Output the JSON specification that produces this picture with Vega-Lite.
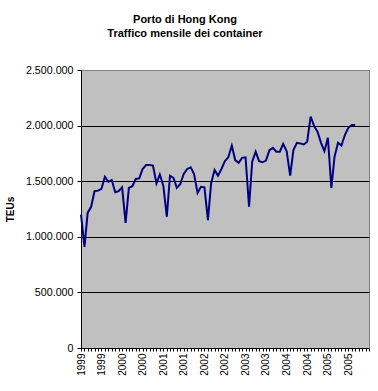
{
  "$schema": "https://vega.github.io/schema/vega-lite/v6.json",
  "width": 288,
  "height": 278,
  "autosize": {"type": "none"},
  "padding": {"left": 81, "top": 70, "right": 9, "bottom": 43},
  "background": "white",
  "title": {
    "text": ["Porto di Hong Kong", "Traffico mensile dei container"],
    "font": "Liberation Sans",
    "fontSize": 11,
    "fontWeight": "bold",
    "lineHeight": 14,
    "anchor": "middle",
    "frame": "group",
    "dx": -40,
    "offset": 25,
    "color": "black"
  },
  "config": {
    "locale": {"number": {"decimal": ",", "thousands": ".", "grouping": [3], "currency": ["€", ""]}},
    "view": {"fill": "#C0C0C0", "stroke": "#808080"},
    "font": "Liberation Sans"
  },
  "data": {
    "values": [
      {"month": "1999-01-01", "teu": 1200000},
      {"month": "1999-02-01", "teu": 910000},
      {"month": "1999-03-01", "teu": 1215000},
      {"month": "1999-04-01", "teu": 1270000},
      {"month": "1999-05-01", "teu": 1410000},
      {"month": "1999-06-01", "teu": 1415000},
      {"month": "1999-07-01", "teu": 1430000},
      {"month": "1999-08-01", "teu": 1540000},
      {"month": "1999-09-01", "teu": 1495000},
      {"month": "1999-10-01", "teu": 1510000},
      {"month": "1999-11-01", "teu": 1400000},
      {"month": "1999-12-01", "teu": 1410000},
      {"month": "2000-01-01", "teu": 1445000},
      {"month": "2000-02-01", "teu": 1125000},
      {"month": "2000-03-01", "teu": 1440000},
      {"month": "2000-04-01", "teu": 1455000},
      {"month": "2000-05-01", "teu": 1520000},
      {"month": "2000-06-01", "teu": 1525000},
      {"month": "2000-07-01", "teu": 1610000},
      {"month": "2000-08-01", "teu": 1645000},
      {"month": "2000-09-01", "teu": 1645000},
      {"month": "2000-10-01", "teu": 1640000},
      {"month": "2000-11-01", "teu": 1480000},
      {"month": "2000-12-01", "teu": 1560000},
      {"month": "2001-01-01", "teu": 1460000},
      {"month": "2001-02-01", "teu": 1180000},
      {"month": "2001-03-01", "teu": 1550000},
      {"month": "2001-04-01", "teu": 1530000},
      {"month": "2001-05-01", "teu": 1440000},
      {"month": "2001-06-01", "teu": 1475000},
      {"month": "2001-07-01", "teu": 1565000},
      {"month": "2001-08-01", "teu": 1610000},
      {"month": "2001-09-01", "teu": 1625000},
      {"month": "2001-10-01", "teu": 1565000},
      {"month": "2001-11-01", "teu": 1395000},
      {"month": "2001-12-01", "teu": 1450000},
      {"month": "2002-01-01", "teu": 1445000},
      {"month": "2002-02-01", "teu": 1150000},
      {"month": "2002-03-01", "teu": 1480000},
      {"month": "2002-04-01", "teu": 1600000},
      {"month": "2002-05-01", "teu": 1550000},
      {"month": "2002-06-01", "teu": 1610000},
      {"month": "2002-07-01", "teu": 1680000},
      {"month": "2002-08-01", "teu": 1715000},
      {"month": "2002-09-01", "teu": 1820000},
      {"month": "2002-10-01", "teu": 1690000},
      {"month": "2002-11-01", "teu": 1665000},
      {"month": "2002-12-01", "teu": 1710000},
      {"month": "2003-01-01", "teu": 1715000},
      {"month": "2003-02-01", "teu": 1270000},
      {"month": "2003-03-01", "teu": 1675000},
      {"month": "2003-04-01", "teu": 1765000},
      {"month": "2003-05-01", "teu": 1680000},
      {"month": "2003-06-01", "teu": 1670000},
      {"month": "2003-07-01", "teu": 1685000},
      {"month": "2003-08-01", "teu": 1780000},
      {"month": "2003-09-01", "teu": 1800000},
      {"month": "2003-10-01", "teu": 1765000},
      {"month": "2003-11-01", "teu": 1765000},
      {"month": "2003-12-01", "teu": 1835000},
      {"month": "2004-01-01", "teu": 1770000},
      {"month": "2004-02-01", "teu": 1550000},
      {"month": "2004-03-01", "teu": 1780000},
      {"month": "2004-04-01", "teu": 1845000},
      {"month": "2004-05-01", "teu": 1840000},
      {"month": "2004-06-01", "teu": 1830000},
      {"month": "2004-07-01", "teu": 1855000},
      {"month": "2004-08-01", "teu": 2080000},
      {"month": "2004-09-01", "teu": 1995000},
      {"month": "2004-10-01", "teu": 1945000},
      {"month": "2004-11-01", "teu": 1845000},
      {"month": "2004-12-01", "teu": 1770000},
      {"month": "2005-01-01", "teu": 1890000},
      {"month": "2005-02-01", "teu": 1440000},
      {"month": "2005-03-01", "teu": 1720000},
      {"month": "2005-04-01", "teu": 1845000},
      {"month": "2005-05-01", "teu": 1820000},
      {"month": "2005-06-01", "teu": 1915000},
      {"month": "2005-07-01", "teu": 1980000},
      {"month": "2005-08-01", "teu": 2005000},
      {"month": "2005-09-01", "teu": 2005000}
    ]
  },
  "mark": {"type": "line", "color": "#000080", "strokeWidth": 2},
  "encoding": {
    "x": {
      "field": "month",
      "type": "temporal",
      "scale": {
        "type": "utc",
        "domain": [{"year": 1999, "month": 1, "date": 1, "utc": true}, {"year": 2006, "month": 1, "date": 1, "utc": true}]
      },
      "axis": {
        "title": null,
        "tickCount": {"interval": "month", "step": 1},
        "labelExpr": "(utcmonth(datum.value) % 6 == 0 && utcyear(datum.value) < 2006) ? utcFormat(datum.value, '%Y') : ''",
        "labelAngle": -90,
        "labelOverlap": false,
        "labelFlush": false,
        "labelBound": false,
        "labelFont": "Liberation Sans",
        "labelFontSize": 10,
        "labelColor": "black",
        "labelPadding": 2,
        "tickSize": 3,
        "tickColor": "black",
        "domainColor": "black",
        "grid": false
      }
    },
    "y": {
      "field": "teu",
      "type": "quantitative",
      "scale": {"domain": [0, 2500000], "nice": false},
      "axis": {
        "title": "TEUs",
        "values": [0, 500000, 1000000, 1500000, 2000000, 2500000],
        "format": ",d",
        "labelFont": "Liberation Sans",
        "labelFontSize": 10.7,
        "labelColor": "black",
        "labelPadding": 4,
        "tickSize": 4,
        "tickColor": "black",
        "domainColor": "black",
        "grid": true,
        "gridColor": "black",
        "gridOpacity": {"condition": {"test": "datum.value == 0 || datum.value == 2500000", "value": 0}, "value": 1},
        "titleFont": "Liberation Sans",
        "titleFontSize": 10,
        "titleFontWeight": "bold",
        "titleColor": "black",
        "titlePadding": 10
      }
    }
  }
}
